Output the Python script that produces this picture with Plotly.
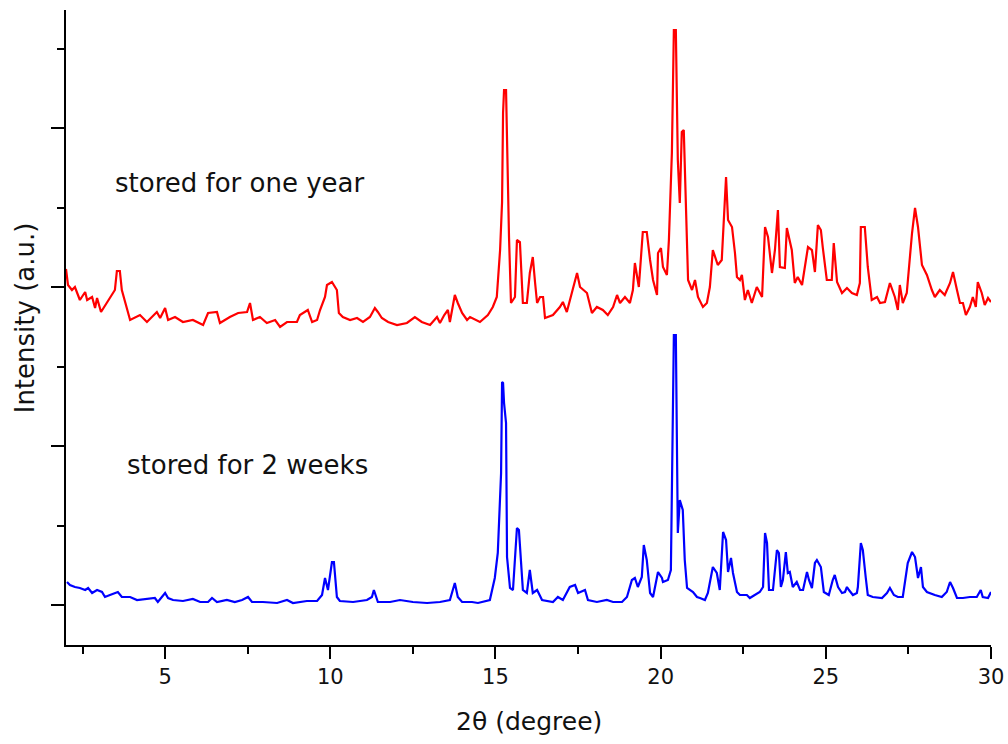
import plotly.graph_objects as go

# 2-theta positions (degree) and intensities (a.u.) for the sample stored for one year
red_x = [2.00, 2.06, 2.18, 2.27, 2.42, 2.58, 2.64, 2.79, 2.88, 2.94, 3.06, 3.48, 3.54, 3.63, 3.69,
         3.85, 3.94, 4.24, 4.45, 4.75, 4.85, 5.00, 5.09, 5.30, 5.54, 5.84, 6.15, 6.30, 6.57, 6.66,
         6.96, 7.21, 7.48, 7.57, 7.66, 7.87, 8.08, 8.33, 8.48, 8.69, 8.99, 9.08, 9.32, 9.45, 9.60,
         9.69, 9.84, 9.90, 10.05, 10.20, 10.26, 10.38, 10.60, 10.81, 10.99, 11.20, 11.35, 11.44,
         11.56, 11.75, 12.02, 12.32, 12.56, 12.77, 13.02, 13.23,
         13.32, 13.45, 13.56, 13.62, 13.77, 13.86, 13.99, 14.14, 14.23, 14.53, 14.77, 14.92, 15.04,
         15.14, 15.20, 15.23, 15.26, 15.32, 15.35, 15.38, 15.41, 15.47, 15.59, 15.65, 15.74, 15.83,
         15.95, 16.04, 16.13, 16.20, 16.26, 16.35, 16.44, 16.50, 16.74, 16.95, 17.04, 17.16, 17.31,
         17.47, 17.56, 17.77, 17.92, 18.07, 18.25, 18.40, 18.56, 18.68, 18.77, 18.92, 19.07, 19.16,
         19.22, 19.34, 19.46, 19.58, 19.68, 19.77, 19.89, 19.92, 20.01, 20.07, 20.19, 20.25, 20.34,
         20.37, 20.40, 20.46, 20.49, 20.52, 20.58, 20.64, 20.70, 20.77, 20.83, 20.95, 21.04, 21.13,
         21.28, 21.40, 21.49, 21.58, 21.73, 21.85, 21.92, 21.98, 22.04, 22.16, 22.25, 22.31, 22.40,
         22.46, 22.55, 22.64, 22.76, 22.91, 23.07, 23.16, 23.25, 23.37, 23.46, 23.55, 23.61, 23.76,
         23.82, 23.97, 24.06, 24.15, 24.28, 24.46, 24.58, 24.67, 24.76, 24.85, 24.91, 25.03, 25.18,
         25.24, 25.34, 25.49, 25.64, 25.79, 25.94, 26.03, 26.06, 26.18, 26.27, 26.39, 26.55, 26.64,
         26.79, 26.94, 27.09, 27.18, 27.24, 27.33, 27.45, 27.61, 27.70, 27.79, 27.91, 28.06, 28.21,
         28.30, 28.45, 28.60, 28.76, 28.85, 28.97, 29.06, 29.15, 29.24, 29.36, 29.45, 29.54, 29.60,
         29.72, 29.81, 29.91, 30.00]
red_y = [3360, 3200, 3150, 3180, 3050, 3130, 3050, 3080, 2970, 3070, 2930, 3150, 3340, 3340, 3150,
         2950, 2850, 2900, 2830, 2930, 2870, 2970, 2850, 2880, 2830, 2850, 2800, 2920, 2930, 2820,
         2880, 2920, 2930, 3020, 2850, 2880, 2820, 2850, 2780, 2830, 2830, 2900, 2950, 2830, 2850,
         2950, 3080, 3200, 3230, 3150, 2920, 2880, 2850, 2870, 2830, 2880, 2970, 2930,
         2870, 2830, 2800, 2820, 2880, 2830, 2800, 2880,
         2820, 2900, 2950, 2830, 3100, 3020, 2920, 2850, 2880, 2830, 2900, 2980, 3080,
         3550, 4030, 4920, 5150, 5150, 4550, 4120, 3680, 3020, 3080, 3650, 3630, 3020,
         3020, 3320, 3480, 3220, 3020, 3080, 3080, 2870, 2900, 2980, 3030, 2930, 3120,
         3320, 3180, 3120, 2920, 2980, 2950, 2900, 2980, 3100, 3020, 3080, 3020, 3150,
         3420, 3180, 3730, 3730, 3450, 3250, 3100, 3520, 3570, 3380, 3300, 3650, 4520,
         5180, 5750, 5750, 4880, 4450, 4020, 4730, 4750, 4020, 3250, 3150, 3250, 3080,
         2980, 3020, 3180, 3550, 3400, 3450, 3950, 4280, 3850, 3780, 3520, 3280, 3250,
         3300, 3050, 3150, 3020, 3180, 3080, 3780, 3680, 3320, 3550, 3950, 3380, 3370,
         3770, 3550, 3220, 3280, 3200, 3580, 3550, 3330, 3800, 3750, 3570, 3250, 3250,
         3620, 3230, 3120, 3170, 3120, 3100, 3220, 3780, 3780, 3380, 3050, 3080, 3020,
         3030, 3220, 3080, 2950, 3200, 3020, 3120, 3720, 3970, 3780, 3400, 3300, 3150,
         3080, 3150, 3100, 3220, 3330, 3150, 3020, 3020, 2900, 2980, 3080, 2980, 3230,
         3120, 3000, 3070, 3030]

# 2-theta positions (degree) and intensities (a.u.) for the sample stored for 2 weeks
blue_x = [2.03, 2.12, 2.27, 2.42, 2.58, 2.67, 2.79, 2.94, 3.09, 3.18, 3.33, 3.48, 3.57, 3.69, 3.94,
          4.15, 4.45, 4.69, 4.78, 5.00, 5.09, 5.24, 5.54, 5.84, 6.06, 6.30, 6.42, 6.57, 6.87, 7.11,
          7.33, 7.51, 7.63, 7.96, 8.39, 8.69, 8.87, 9.29, 9.60, 9.75, 9.84, 9.93, 10.05, 10.11,
          10.20, 10.29, 10.69, 11.11, 11.26, 11.32, 11.44, 11.81, 12.11, 12.50, 12.93, 13.32,
          13.62, 13.77, 13.86, 13.99, 14.29, 14.47, 14.83, 14.98, 15.07, 15.17, 15.20, 15.23, 15.26,
          15.32, 15.35, 15.44, 15.53, 15.59, 15.65, 15.71, 15.77, 15.83, 15.95, 16.04, 16.13, 16.26,
          16.41, 16.74, 16.89, 17.04, 17.25, 17.41, 17.50, 17.71, 17.80, 18.07, 18.37, 18.56, 18.83,
          18.98, 19.13, 19.22, 19.31, 19.43, 19.49, 19.58, 19.68, 19.77, 19.92, 20.04, 20.07, 20.22,
          20.31, 20.34, 20.37, 20.40, 20.46, 20.49, 20.52, 20.58, 20.67, 20.73, 20.80,
          20.98, 21.10, 21.19, 21.34, 21.43, 21.58, 21.70, 21.79, 21.89, 21.98, 22.04, 22.13, 22.19,
          22.31, 22.40, 22.61, 22.70, 22.85, 23.00, 23.10, 23.16, 23.22, 23.28, 23.40, 23.46, 23.52,
          23.58, 23.64, 23.70, 23.79, 23.85, 23.91, 24.00, 24.12, 24.22, 24.31, 24.43, 24.49, 24.58,
          24.67, 24.73, 24.85, 24.94, 25.09, 25.21, 25.27, 25.37, 25.49, 25.58, 25.64, 25.70, 25.82,
          25.94, 25.97, 26.06, 26.12, 26.21, 26.27, 26.42, 26.70, 26.85, 26.94, 27.06, 27.18, 27.33,
          27.48, 27.61, 27.70, 27.79, 27.88, 27.94, 28.06, 28.30, 28.51, 28.66, 28.76, 28.85, 28.97,
          29.15, 29.36, 29.57, 29.69, 29.75, 29.91, 30.00]
blue_y = [230, 200, 180, 170, 150, 170, 120, 150, 130, 80, 100, 120, 130, 80, 80,
          50, 60, 70, 30, 120, 70, 50, 40, 60, 30, 30, 70, 30, 50, 30,
          50, 80, 30, 30, 20, 50, 20, 40, 40, 100, 270, 150, 430, 430,
          80, 40, 30, 50, 80, 150, 30, 30, 50, 30, 20, 30,
          50, 220, 80, 30, 30, 20, 50, 270, 520, 1320, 2230, 2220, 2020,
          1820, 480, 170, 150, 450, 770, 750, 450, 150, 120, 350, 120, 150,
          50, 30, 80, 50, 180, 200, 120, 150, 50, 30, 50, 30, 30,
          80, 250, 270, 180, 280, 600, 450, 120, 80, 330, 270, 230, 250,
          350, 1080, 2150, 2700, 2700, 1650, 720, 1050, 950, 450, 170,
          130, 80, 70, 50, 120, 380, 320, 150, 730, 650, 330, 470, 320,
          130, 100, 100, 70, 100, 130, 180, 720, 620, 150, 150, 380, 550,
          520, 180, 250, 530, 320, 330, 180, 230, 150, 150, 330, 250, 170,
          420, 450, 380, 130, 100, 250, 300, 180, 120, 130, 180, 150, 100,
          120, 180, 620, 550, 270, 100, 80, 70, 120, 170, 100, 80, 80,
          420, 530, 480, 270, 380, 180, 130, 100, 80, 130, 230, 170, 70,
          70, 80, 80, 150, 80, 70, 130]

labels = ["stored for one year", "stored for 2 weeks"]
label_pos = [(7.27, 4220), (7.48, 1400)]

FONT = "DejaVu Sans"

fig = go.Figure()
fig.add_trace(go.Scatter(x=red_x, y=red_y, mode="lines",
                         line=dict(color="#ff0000", width=2.2), showlegend=False))
fig.add_trace(go.Scatter(x=blue_x, y=blue_y, mode="lines",
                         line=dict(color="#0000ff", width=2.2), showlegend=False))

for text, (lx, ly) in zip(labels, label_pos):
    fig.add_annotation(x=lx, y=ly, xref="x", yref="y", text=text, showarrow=False,
                       xanchor="center", yanchor="middle",
                       font=dict(family=FONT, size=26, color="#111111"))

# axis titles
fig.add_annotation(x=0.5, y=-0.121, xref="paper", yref="paper", text="2θ (degree)",
                   showarrow=False, xanchor="center", yanchor="middle",
                   font=dict(family=FONT, size=25, color="#111111"))
fig.add_annotation(x=-0.044, y=0.515, xref="paper", yref="paper", text="Intensity (a.u.)",
                   showarrow=False, textangle=-90, xanchor="center", yanchor="middle",
                   font=dict(family=FONT, size=26, color="#111111"))

fig.update_xaxes(range=[2, 30], tick0=0, dtick=5, ticks="outside", ticklen=12, tickwidth=2,
                 tickcolor="#000000", showline=True, linecolor="#000000", linewidth=2,
                 showgrid=False, zeroline=False, automargin=False,
                 tickfont=dict(family=FONT, size=21, color="#111111"),
                 minor=dict(tick0=0, dtick=2.5, ticks="outside", ticklen=7, tickwidth=2,
                            tickcolor="#000000", showgrid=False))
fig.update_yaxes(range=[-400, 5950], tick0=0, dtick=1590, ticks="outside", ticklen=13,
                 tickwidth=2, tickcolor="#000000", showline=True, linecolor="#000000",
                 linewidth=2, showgrid=False, zeroline=False, showticklabels=False,
                 automargin=False,
                 minor=dict(tick0=0, dtick=795, ticks="outside", ticklen=7, tickwidth=2,
                            tickcolor="#000000", showgrid=False))

fig.update_layout(width=1008, height=744, margin=dict(l=66, r=17, t=10, b=99),
                  plot_bgcolor="white", paper_bgcolor="white")

fig.write_html("out.html")
